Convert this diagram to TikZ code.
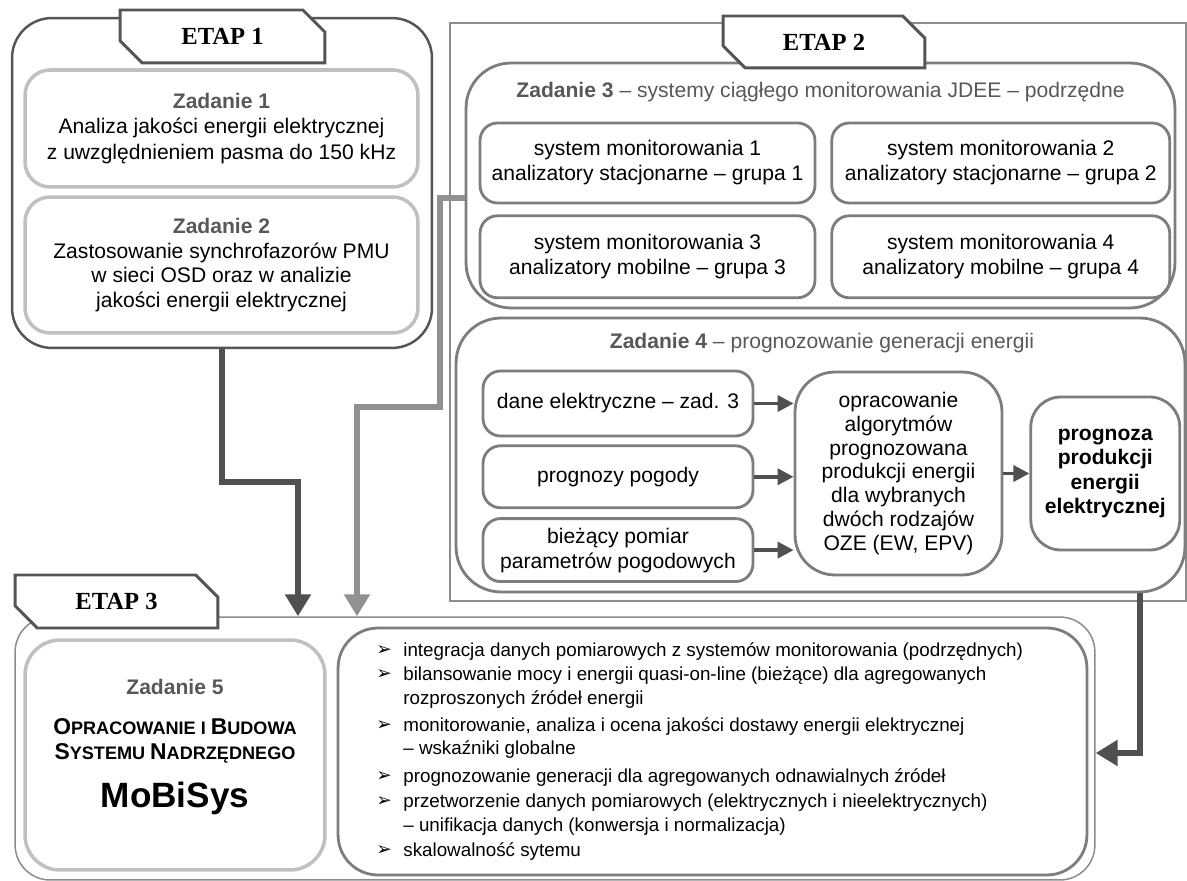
\documentclass[tikz,border=0pt]{standalone}
\usepackage{fontspec}
\setmainfont{Liberation Sans}
\newfontfamily\etapfont{Liberation Serif}
\newfontfamily\dingfont{DejaVu Sans}
\usetikzlibrary{shapes,arrows,arrows.meta,positioning}

\definecolor{tabgray}{RGB}{85,85,85}
\definecolor{outergray}{RGB}{140,140,140}
\definecolor{lightbox}{RGB}{192,192,192}
\definecolor{boxgray}{RGB}{125,125,125}
\definecolor{titlegray}{RGB}{88,88,88}
\definecolor{darkarr}{RGB}{80,80,80}
\definecolor{grayarr}{RGB}{145,145,145}

\newcommand{\capbig}[1]{{\fontsize{13}{15}\selectfont #1}}

\tikzstyle{etap} = [chamfered rectangle, chamfered rectangle corners={north east,south west},
    chamfered rectangle xsep=0.26cm, chamfered rectangle ysep=0.28cm,
    draw=tabgray, line width=1.7pt, fill=white, inner sep=0pt,
    font={\etapfont\bfseries\fontsize{14}{16}\selectfont}]
\tikzstyle{frame} = [rectangle, draw=tabgray, line width=1.4pt, rounded corners=0.8cm]
\tikzstyle{outer} = [rectangle, draw=outergray, line width=1.1pt]
\tikzstyle{lightblock} = [rectangle, draw=lightbox, line width=2pt, rounded corners=0.5cm,
    align=center, font={\fontsize{12}{14.5}\selectfont}]
\tikzstyle{zadanie} = [rectangle, draw=boxgray, line width=1.6pt, rounded corners=0.9cm]
\tikzstyle{block} = [rectangle, draw=boxgray, line width=1.6pt, rounded corners=0.35cm,
    align=center, font={\fontsize{12}{14.2}\selectfont}]
\tikzstyle{title} = [text=titlegray, font={\fontsize{12}{14}\selectfont}]
\tikzstyle{item} = [anchor=west, inner sep=0pt, text height=1.6ex, text depth=.45ex,
    font={\fontsize{10.7}{13}\selectfont}]
\tikzstyle{bullet} = [inner sep=0pt, font={\dingfont\fontsize{10.5}{11}\selectfont}]
\tikzstyle{line} = [draw=darkarr, line width=2pt, -{Triangle[length=0.32cm,width=0.32cm]}]
\tikzstyle{bigline} = [draw=darkarr, line width=3.8pt, -{Triangle[length=0.44cm,width=0.5cm]}]

\begin{document}
\begin{tikzpicture}[x=0.02cm, y=-0.02cm]
	\useasboundingbox (0,0) rectangle (1187,881);

	% ETAP 1
	\node [frame, minimum width=8.4cm, minimum height=6.6cm] (frame1) at (222,183) {};
	\node [lightblock, minimum width=7.86cm, minimum height=2.34cm] (zad1) at (221.5,128.5)
		{{\color{titlegray}\bfseries Zadanie 1}\\Analiza jakości energii elektrycznej\\z uwzględnieniem pasma do 150 kHz};
	\node [lightblock, minimum width=7.86cm, minimum height=2.72cm, font={\fontsize{12}{13.9}\selectfont}] (zad2) at (221.5,265)
		{{\color{titlegray}\bfseries Zadanie 2}\\Zastosowanie synchrofazorów PMU\\w sieci OSD oraz w analizie\\jakości energii elektrycznej};
	\node [etap, minimum width=4.1cm, minimum height=1.06cm] (etap1) at (222.5,36.5) {ETAP 1};

	% ETAP 2
	\node [outer, minimum width=14.72cm, minimum height=11.56cm] (frame2) at (818,312) {};
	\node [zadanie, minimum width=14.18cm, minimum height=4.9cm] (zad3) at (820.5,185.5) {};
	\node [title] (title3) at (820.5,92) {\bfseries Zadanie 3\mdseries{} -- systemy ciągłego monitorowania JDEE -- podrzędne};
	\node [block, minimum width=6.7cm, minimum height=1.6cm] (sys1) at (647.5,163)
		{system monitorowania 1\\analizatory stacjonarne -- grupa 1};
	\node [block, minimum width=6.76cm, minimum height=1.6cm, right=0.28cm of sys1] (sys2)
		{system monitorowania 2\\analizatory stacjonarne -- grupa 2};
	\node [block, minimum width=6.7cm, minimum height=1.64cm, below=0.2cm of sys1] (sys3)
		{system monitorowania 3\\analizatory mobilne -- grupa 3};
	\node [block, minimum width=6.76cm, minimum height=1.64cm, below=0.2cm of sys2] (sys4)
		{system monitorowania 4\\analizatory mobilne -- grupa 4};

	\node [zadanie, minimum width=14.58cm, minimum height=5.48cm] (zad4) at (820.5,455) {};
	\node [title] (title4) at (822,343) {\bfseries Zadanie 4\mdseries{} -- prognozowanie generacji energii};
	\node [block, minimum width=5.4cm, minimum height=1.3cm] (in1) at (618,403.5) {dane elektryczne -- zad. 3};
	\node [block, minimum width=5.4cm, minimum height=1.24cm, below=0.14cm of in1] (in2) {prognozy pogody};
	\node [block, minimum width=5.4cm, minimum height=1.26cm, below=0.16cm of in2] (in3)
		{bieżący pomiar\\parametrów pogodowych};
	\node [block, minimum width=4.14cm, minimum height=4.06cm, rounded corners=0.8cm, font={\fontsize{12}{13.6}\selectfont}] (alg) at (898.5,473.5)
		{opracowanie\\algorytmów\\prognozowana\\produkcji energii\\dla wybranych\\dwóch rodzajów\\OZE (EW, EPV)};
	\node [block, minimum width=2.98cm, minimum height=3.06cm, rounded corners=0.6cm, right=0.52cm of alg, font={\bfseries\fontsize{12}{13.9}\selectfont}] (out)
		{prognoza\\produkcji\\energii\\elektrycznej};
	\node [etap, minimum width=4.04cm, minimum height=1.04cm] (etap2) at (824,42) {ETAP 2};

	\path [line] (in1.east) -- (in1.east -| alg.west);
	\path [line] (in2.east) -- (in2.east -| alg.west);
	\path [line] (in3.east) -- (in3.east -| alg.west);
	\path [line] (alg.east) -- (out.west);

	% ETAP 3
	\node [rectangle, draw=outergray, line width=0.85pt, rounded corners=0.7cm, minimum width=21.6cm, minimum height=5.26cm] (frame3) at (555,748.5) {};
	\node [lightblock, minimum width=6cm, minimum height=4.6cm, rounded corners=0.7cm] (zad5) at (175,755) {};
	\node [text=titlegray, font={\bfseries\fontsize{12}{14}\selectfont}] (z5head) at (175,687) {Zadanie 5};
	\node [font={\bfseries\fontsize{10.3}{12}\selectfont}] (z5name1) at (175,727) {\capbig{O}PRACOWANIE I \capbig{B}UDOWA};
	\node [font={\bfseries\fontsize{10.3}{12}\selectfont}] (z5name2) at (175,753) {\capbig{S}YSTEMU \capbig{N}ADRZĘDNEGO};
	\node [font={\bfseries\fontsize{20}{22}\selectfont}] (mobisys) at (175,798) {MoBiSys};
	\node [block, minimum width=14.98cm, minimum height=4.94cm, rounded corners=0.8cm] (list) at (712.5,751.5) {};

	\node [bullet] (b1) at (384,651) {➢};
	\node [item] (t1) at (403,651) {integracja danych pomiarowych z systemów monitorowania (podrzędnych)};
	\node [bullet] (b2) at (384,675) {➢};
	\node [item] (t2) at (403,675) {bilansowanie mocy i energii quasi-on-line (bieżące) dla agregowanych};
	\node [item] (t2b) at (403,699) {rozproszonych źródeł energii};
	\node [bullet] (b3) at (384,726) {➢};
	\node [item] (t3) at (403,726) {monitorowanie, analiza i ocena jakości dostawy energii elektrycznej};
	\node [item] (t3b) at (403,749) {-- wskaźniki globalne};
	\node [bullet] (b4) at (384,777) {➢};
	\node [item] (t4) at (403,777) {prognozowanie generacji dla agregowanych odnawialnych źródeł};
	\node [bullet] (b5) at (384,802) {➢};
	\node [item] (t5) at (403,802) {przetworzenie danych pomiarowych (elektrycznych i nieelektrycznych)};
	\node [item] (t5b) at (403,826) {-- unifikacja danych (konwersja i normalizacja)};
	\node [bullet] (b6) at (384,851) {➢};
	\node [item] (t6) at (403,851) {skalowalność sytemu};

	\node [etap, minimum width=4.06cm, minimum height=1.06cm] (etap3) at (116.5,601.5) {ETAP 3};

	% polaczenia miedzy etapami
	\coordinate (dkbend) at (298,482);
	\coordinate (gybend) at (440,407);
	\coordinate (gydrop) at (357,407);
	\coordinate (rtcol) at (1140,753);
	\path [bigline] (frame1.south) |- (dkbend) -- (dkbend |- frame3.north);
	\path [bigline, draw=grayarr] ([yshift=-0.25cm]zad3.west) -| (gybend) -- (gydrop) -- (gydrop |- frame3.north);
	\path [bigline] (zad4.south -| rtcol) -- (rtcol) -- (rtcol -| frame3.east);
\end{tikzpicture}
\end{document}
